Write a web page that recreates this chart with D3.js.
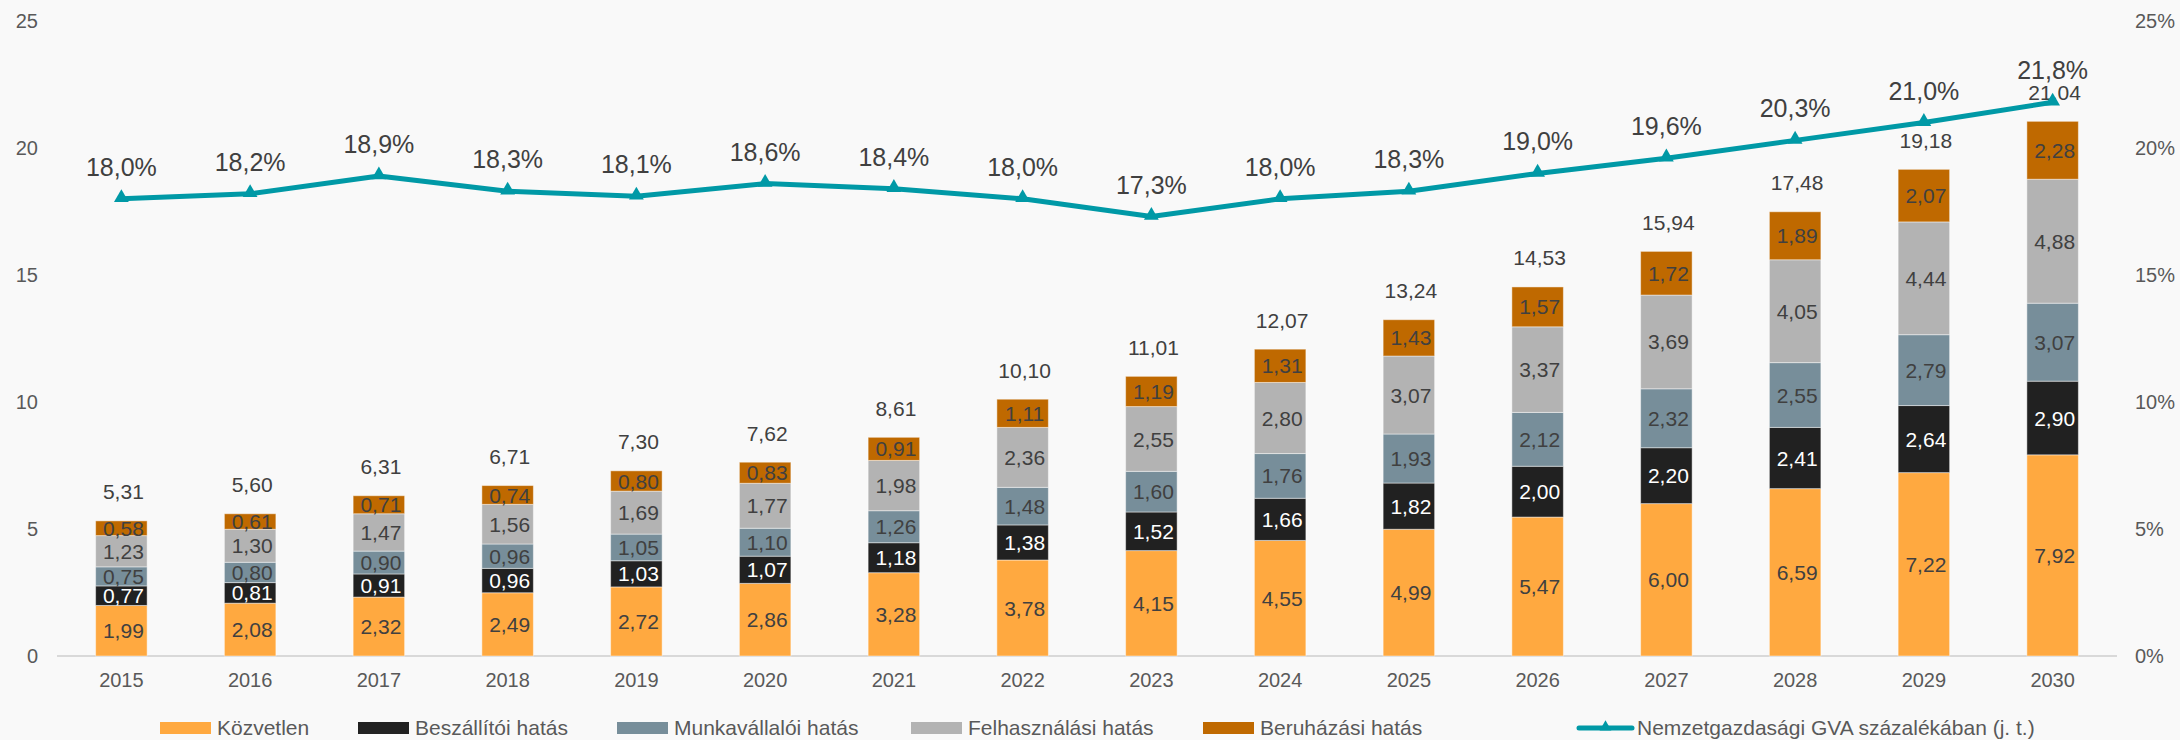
<!DOCTYPE html>
<html>
<head>
<meta charset="utf-8">
<script src="https://cdn.jsdelivr.net/npm/d3@7"></script>
<style>
  body { margin: 0; background: #f9f9f9; }
  svg { display: block; font-family: "Liberation Sans", Arial, sans-serif; }
</style>
</head>
<body>
<svg id="chart" width="2180" height="740"></svg>
<script>
// data
var years = ['2015','2016','2017','2018','2019','2020','2021','2022','2023','2024','2025','2026','2027','2028','2029','2030'];
var kozvetlen     = [1.99, 2.08, 2.32, 2.49, 2.72, 2.86, 3.28, 3.78, 4.15, 4.55, 4.99, 5.47, 6.00, 6.59, 7.22, 7.92];
var beszallitoi   = [0.77, 0.81, 0.91, 0.96, 1.03, 1.07, 1.18, 1.38, 1.52, 1.66, 1.82, 2.00, 2.20, 2.41, 2.64, 2.90];
var munkavallaloi = [0.75, 0.80, 0.90, 0.96, 1.05, 1.10, 1.26, 1.48, 1.60, 1.76, 1.93, 2.12, 2.32, 2.55, 2.79, 3.07];
var felhasznalasi = [1.23, 1.30, 1.47, 1.56, 1.69, 1.77, 1.98, 2.36, 2.55, 2.80, 3.07, 3.37, 3.69, 4.05, 4.44, 4.88];
var beruhazasi    = [0.58, 0.61, 0.71, 0.74, 0.80, 0.83, 0.91, 1.11, 1.19, 1.31, 1.43, 1.57, 1.72, 1.89, 2.07, 2.28];
var totals        = [5.31, 5.60, 6.31, 6.71, 7.30, 7.62, 8.61, 10.10, 11.01, 12.07, 13.24, 14.53, 15.94, 17.48, 19.18, 21.04];
var gvaShare      = [18.0, 18.2, 18.9, 18.3, 18.1, 18.6, 18.4, 18.0, 17.3, 18.0, 18.3, 19.0, 19.6, 20.3, 21.0, 21.8];

var seriesNames  = ['Közvetlen', 'Beszállítói hatás', 'Munkavállalói hatás', 'Felhasználási hatás', 'Beruházási hatás'];
var seriesVals   = [kozvetlen, beszallitoi, munkavallaloi, felhasznalasi, beruhazasi];
var seriesColors = ['#ffa940', '#212121', '#778e9a', '#b3b3b3', '#bf6900'];
var labelColors  = ['#404040', '#ffffff', '#404040', '#404040', '#404040'];
var lineName = 'Nemzetgazdasági GVA százalékában (j. t.)';
var lineColor = '#0099a6';

var leftTicks = [0, 5, 10, 15, 20, 25];
var rightTicks = [0, 5, 10, 15, 20, 25];

function comma(fmt) {
    var f = d3.format(fmt);
    return function(v) { return f(v).replace('.', ','); };
}
var fmt2 = comma('.2f'), fmt1 = comma('.1f');

var svg = d3.select('#chart');
svg.append('rect').attr('width', 2180).attr('height', 740).attr('fill', '#f9f9f9');

var x = d3.scaleBand().domain(years).range([57, 2117]).paddingInner(0.6).paddingOuter(0.3);
var y = d3.scaleLinear().domain([0, 25]).range([656, 21]);
var y2 = d3.scaleLinear().domain([0, 25]).range([656, 21]);

// stack the segments
var rows = years.map(function(yr, i) {
    var r = {year: yr};
    seriesNames.forEach(function(n, k) { r[n] = seriesVals[k][i]; });
    return r;
});
var stacked = d3.stack().keys(seriesNames)(rows);

// axes (no lines, just labels)
var axL = svg.append('g').attr('transform', 'translate(38,0)')
    .call(d3.axisLeft(y).tickValues(leftTicks).tickSize(0).tickPadding(0).tickFormat(d3.format('d')));
var axR = svg.append('g').attr('transform', 'translate(2135,0)')
    .call(d3.axisRight(y2).tickValues(rightTicks).tickSize(0).tickPadding(0).tickFormat(function(d) { return d + '%'; }));
var axX = svg.append('g').attr('transform', 'translate(0,673)')
    .call(d3.axisBottom(x).tickSize(0).tickPadding(0));
[axL, axR, axX].forEach(function(a) {
    a.select('.domain').remove();
    a.selectAll('text').attr('fill', '#595959').style('font-size', '20px')
        .style('font-family', '"Liberation Sans", Arial, sans-serif');
});

// baseline
svg.append('line')
    .attr('x1', 57).attr('x2', 2117)
    .attr('y1', y(0)).attr('y2', y(0))
    .attr('stroke', '#d9d9d9').attr('stroke-width', 2);

// bars
stacked.forEach(function(layer, k) {
    var g = svg.append('g').attr('class', 'layer' + k);
    g.selectAll('rect').data(layer).enter().append('rect')
        .attr('x', function(d) { return x(d.data.year); })
        .attr('width', x.bandwidth())
        .attr('y', function(d) { return y(d[1]); })
        .attr('height', function(d) { return y(d[0]) - y(d[1]); })
        .attr('fill', seriesColors[k])
        .attr('stroke', 'rgba(255,255,255,0.45)')
        .attr('stroke-width', 1);
    g.selectAll('text').data(layer).enter().append('text')
        .attr('x', function(d) { return x(d.data.year) + x.bandwidth() / 2 + 2; })
        .attr('y', function(d) { return (y(d[0]) + y(d[1])) / 2; })
        .attr('dy', '0.36em')
        .attr('text-anchor', 'middle')
        .attr('fill', labelColors[k])
        .style('font-size', '21px')
        .text(function(d) { return fmt2(d[1] - d[0]); });
});

// totals above bars
svg.append('g').selectAll('text').data(years).enter().append('text')
    .attr('x', function(d) { return x(d) + x.bandwidth() / 2 + 2; })
    .attr('y', function(d, i) { return y(stacked[4][i][1]) - 29; })
    .attr('dy', '0.36em')
    .attr('text-anchor', 'middle')
    .attr('fill', '#404040')
    .style('font-size', '21px')
    .text(function(d, i) { return fmt2(totals[i]); });

// GVA line
var cx = function(i) { return x(years[i]) + x.bandwidth() / 2; };
var line = d3.line().x(function(d, i) { return cx(i); }).y(function(d) { return y2(d); });
svg.append('path').datum(gvaShare)
    .attr('d', line).attr('fill', 'none')
    .attr('stroke', lineColor).attr('stroke-width', 5).attr('stroke-linejoin', 'round');

var tri = d3.symbol().type(d3.symbolTriangle).size(95);
svg.append('g').selectAll('path').data(gvaShare).enter().append('path')
    .attr('d', tri)
    .attr('transform', function(d, i) { return 'translate(' + cx(i) + ',' + (y2(d) - 1) + ')'; })
    .attr('fill', lineColor);

svg.append('g').selectAll('text').data(gvaShare).enter().append('text')
    .attr('x', function(d, i) { return cx(i); })
    .attr('y', function(d) { return y2(d) - 32; })
    .attr('dy', '0.36em')
    .attr('text-anchor', 'middle')
    .attr('fill', '#404040')
    .style('font-size', '25px')
    .text(function(d) { return fmt1(d) + '%'; });

// legend
var legendX = [160, 358, 617, 911, 1203];
var legY = 727;
var leg = svg.append('g');
seriesNames.forEach(function(n, k) {
    leg.append('rect')
        .attr('x', legendX[k]).attr('y', legY - 5)
        .attr('width', 51).attr('height', 12)
        .attr('fill', seriesColors[k]);
    leg.append('text')
        .attr('x', legendX[k] + 57).attr('y', legY)
        .attr('dy', '0.36em')
        .attr('fill', '#595959')
        .style('font-size', '21px')
        .text(n);
});
leg.append('line')
    .attr('x1', 1579).attr('x2', 1632).attr('y1', legY + 1).attr('y2', legY + 1)
    .attr('stroke', lineColor).attr('stroke-width', 5).attr('stroke-linecap', 'round');
leg.append('path')
    .attr('d', d3.symbol().type(d3.symbolTriangle).size(60))
    .attr('transform', 'translate(1605.5,' + legY + ')')
    .attr('fill', lineColor);
leg.append('text')
    .attr('x', 1637).attr('y', legY)
    .attr('dy', '0.36em')
    .attr('fill', '#595959')
    .style('font-size', '21px')
    .text(lineName);
</script>
</body>
</html>
